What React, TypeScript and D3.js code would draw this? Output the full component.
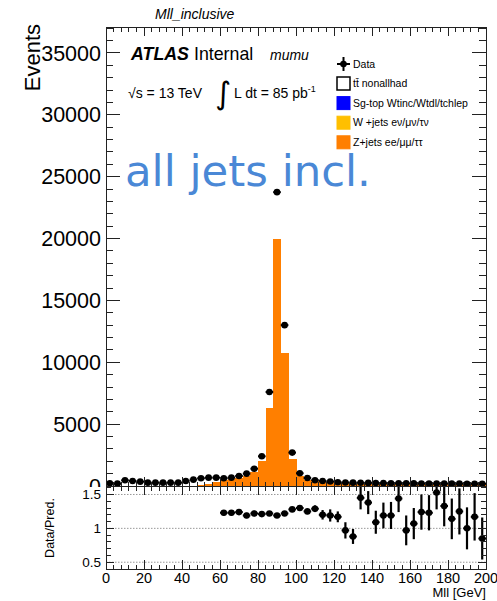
import React from 'react'
import * as d3 from 'd3'

// bin centres (GeV), 4 GeV wide bins from 0 to 200
const massBins = [2, 6, 10, 14, 18, 22, 26, 30, 34, 38, 42, 46, 50, 54, 58, 62, 66, 70, 74, 78, 82, 86, 90, 94, 98,
  102, 106, 110, 114, 118, 122, 126, 130, 134, 138, 142, 146, 150, 154, 158, 162, 166, 170, 174, 178, 182, 186, 190, 194, 198]
const dataEvents = [215, 190, 460, 405, 350, 270, 270, 270, 270, 270, 405, 515, 625, 675, 675, 625, 675, 810, 1000, 1400,
  2400, 7600, 23750, 13000, 2700, 1030, 650, 470, 400, 360, 300, 280, 270, 260, 250, 240, 230, 225, 220, 215,
  210, 205, 200, 200, 195, 190, 190, 185, 185, 180]
const zjetsEvents = [0, 0, 0, 0, 0, 0, 0, 0, 0, 0, 0, 0, 100, 200, 320, 510, 550, 655, 840, 1150,
  2050, 6300, 20000, 10750, 2200, 790, 520, 365, 335, 300, 255, 290, 305, 180, 180, 220, 195, 190, 150, 220,
  195, 165, 162, 130, 147, 167, 152, 185, 158, 212]

const ratioBins = [62, 66, 70, 74, 78, 82, 86, 90, 94, 98, 102, 106, 110, 114, 118, 122, 126, 130, 134, 138, 142,
  146, 150, 154, 158, 162, 166, 170, 174, 178, 182, 186, 190, 194, 198]
const ratioValues = [1.23, 1.23, 1.24, 1.19, 1.22, 1.21, 1.22, 1.19, 1.22, 1.28, 1.3, 1.25, 1.29, 1.2, 1.19, 1.17,
  0.97, 0.88, 1.45, 1.38, 1.09, 1.19, 1.19, 1.44, 0.97, 1.07, 1.24, 1.23, 1.53, 1.33, 1.14, 1.25, 1.0, 1.17, 0.85]
const ratioErrors = [0.04, 0.04, 0.04, 0.04, 0.04, 0.03, 0.02, 0.01, 0.02, 0.03, 0.04, 0.04, 0.05, 0.07, 0.09, 0.08,
  0.12, 0.11, 0.17, 0.17, 0.17, 0.19, 0.2, 0.2, 0.22, 0.23, 0.26, 0.26, 0.25, 0.3, 0.3, 0.34, 0.31, 0.35, 0.31]

const legendLabels = ['tt\u0304 nonallhad', 'Sg-top Wtinc/Wtdl/tchlep', 'W +jets e\u03bd/\u03bc\u03bd/\u03c4\u03bd', 'Z+jets ee/\u03bc\u03bc/\u03c4\u03c4']
const legendColors = ['#ffffff', '#0000ff', '#ffbf00', '#ff7f00']

const xTickLabels = [0, 20, 40, 60, 80, 100, 120, 140, 160, 180, 200]
const yTickLabels = [0, 5000, 10000, 15000, 20000, 25000, 30000, 35000]
const ratioTickLabels = [0.5, 1, 1.5]

const W = 497
const H = 601
const left = 106
const right = 486
const top = 27
const mainBottom = 486
const ratioBottom = 569
const font = 'Liberation Sans, Arial, Helvetica, sans-serif'
const narrow = 'Liberation Sans Narrow, Arial Narrow, Liberation Sans, sans-serif'
const ink = '#222'

export default function App() {
  const x = d3.scaleLinear().domain([0, 200]).range([left, right])
  const y = d3.scaleLinear().domain([0, 37100]).range([mainBottom, top])
  const yr = d3.scaleLinear().domain([0.4, 1.625]).range([ratioBottom, mainBottom])

  const xMinor = d3.range(0, 201, 4)
  const yMinor = d3.range(0, 37001, 1000)
  const rMinor = d3.range(0.5, 1.61, 0.1)

  return (
    <svg width={W} height={H} style={{ position: 'absolute', left: 0, top: 0 }} fontFamily={font}>
      <rect width={W} height={H} fill="#fff" />

      {/* stacked MC: Z+jets */}
      <g shapeRendering="crispEdges">
        {massBins.map((c, i) => zjetsEvents[i] > 0 && (
          <rect key={c} x={x(c - 2)} width={x(c + 2) - x(c - 2) + 0.5} y={y(zjetsEvents[i])}
            height={y(0) - y(zjetsEvents[i])} fill="#ff7f00" />
        ))}
      </g>

      {/* data */}
      <g>
        {massBins.map((c, i) => {
          const v = dataEvents[i]
          const e = Math.sqrt(v)
          return (
            <g key={c}>
              <line x1={x(c)} x2={x(c)} y1={y(v - e)} y2={y(v + e)} stroke="#000" strokeWidth={2} />
              <line x1={x(c - 2)} x2={x(c + 2)} y1={y(v)} y2={y(v)} stroke="#000" strokeWidth={2} />
              <circle cx={x(c)} cy={y(v)} r={3.3} fill="#000" />
            </g>
          )
        })}
      </g>

      {/* main frame and ticks */}
      <g stroke={ink} strokeWidth={1} shapeRendering="crispEdges">
        <rect x={left} y={top} width={right - left} height={mainBottom - top} fill="none" />
        {xMinor.map(t => {
          const len = t % 20 === 0 ? 9 : 4.5
          return (
            <g key={t}>
              <line x1={x(t)} x2={x(t)} y1={top} y2={top + len} />
              <line x1={x(t)} x2={x(t)} y1={mainBottom} y2={mainBottom - len} />
            </g>
          )
        })}
        {yMinor.map(t => {
          const len = t % 5000 === 0 ? 14 : 7
          return (
            <g key={t}>
              <line x1={left} x2={left + len} y1={y(t)} y2={y(t)} />
              <line x1={right} x2={right - len} y1={y(t)} y2={y(t)} />
            </g>
          )
        })}
      </g>
      <g fontSize={21.5} textAnchor="end" fill="#000">
        {yTickLabels.map(t => (
          <text key={t} x={101} y={y(t)} dy="0.35em">{t}</text>
        ))}
      </g>
      <text transform="translate(40,24) rotate(-90)" textAnchor="end" fontSize={22}>Events</text>
      <text x={155} y={19} fontSize={14} fontStyle="italic">Mll_inclusive</text>

      {/* ATLAS labels */}
      <text x={131} y={60} fontSize={17.8}>
        <tspan fontWeight="bold" fontStyle="italic">ATLAS</tspan>
        <tspan dx={5}>Internal</tspan>
      </text>
      <text x={270} y={60} fontSize={14} fontStyle="italic">mumu</text>
      <text x={128} y={98} fontSize={14}>{'\u221as = 13 TeV'}</text>
      <text x={215} y={104} fontSize={31} fontFamily="DejaVu Sans, sans-serif">{'\u222b'}</text>
      <text x={234} y={98} fontSize={14}>
        L dt = 85 pb<tspan dy={-6} fontSize={9}>-1</tspan>
      </text>

      {/* legend */}
      <g fontSize={10.5} fontFamily={narrow}>
        <line x1={337} x2={350} y1={64} y2={64} stroke="#000" strokeWidth={2} />
        <line x1={343.5} x2={343.5} y1={57} y2={71} stroke="#000" strokeWidth={2} />
        <circle cx={343.5} cy={64} r={3.3} fill="#000" />
        <text x={353} y={64} dy="0.35em">Data</text>
        {legendLabels.map((lab, i) => {
          const yy = 77 + i * 19.6
          return (
            <g key={lab}>
              <rect x={337} y={yy} width={13} height={13} fill={legendColors[i]}
                stroke={i === 0 ? '#000' : legendColors[i]} strokeWidth={i === 0 ? 1.5 : 1} />
              <text x={353} y={yy + 6.5} dy="0.35em">{lab}</text>
            </g>
          )
        })}
      </g>

      <text x={125} y={186} fontSize={43.4} fill="#4a88d6" fontFamily="DejaVu Sans, sans-serif">all jets incl.</text>

      {/* ratio pad */}
      <rect x={0} y={mainBottom + 1} width={W} height={H - mainBottom - 1} fill="#fff" />
      <g stroke="#999" strokeWidth={1} strokeDasharray="1.5,1.5">
        {ratioTickLabels.map(t => (
          <line key={t} x1={left} x2={right} y1={yr(t)} y2={yr(t)} />
        ))}
      </g>
      <g>
        {ratioBins.map((c, i) => {
          const v = ratioValues[i]
          const e = ratioErrors[i]
          return (
            <g key={c}>
              <line x1={x(c)} x2={x(c)} y1={Math.min(yr(v - e), ratioBottom)} y2={Math.max(yr(v + e), mainBottom)}
                stroke="#000" strokeWidth={2.2} />
              <line x1={x(c - 2)} x2={x(c + 2)} y1={yr(v)} y2={yr(v)} stroke="#000" strokeWidth={2} />
              <circle cx={x(c)} cy={yr(v)} r={3.3} fill="#000" />
            </g>
          )
        })}
      </g>
      <g stroke={ink} strokeWidth={1} shapeRendering="crispEdges">
        <rect x={left} y={mainBottom} width={right - left} height={ratioBottom - mainBottom} fill="none" />
        {xMinor.map(t => {
          const len = t % 20 === 0 ? 9 : 4.5
          return (
            <g key={t}>
              <line x1={x(t)} x2={x(t)} y1={ratioBottom} y2={ratioBottom - len} />
              <line x1={x(t)} x2={x(t)} y1={mainBottom} y2={mainBottom + len} />
            </g>
          )
        })}
        {rMinor.map(t => {
          const len = Math.abs(t * 2 - Math.round(t * 2)) < 0.01 ? 8 : 5
          return (
            <g key={t}>
              <line x1={left} x2={left + len} y1={yr(t)} y2={yr(t)} />
              <line x1={right} x2={right - len} y1={yr(t)} y2={yr(t)} />
            </g>
          )
        })}
      </g>
      <g fontSize={13.5} textAnchor="end">
        {ratioTickLabels.map(t => (
          <text key={t} x={101} y={yr(t)} dy="0.35em">{t}</text>
        ))}
      </g>
      <g fontSize={14.5} textAnchor="middle">
        {xTickLabels.map(t => (
          <text key={t} x={x(t)} y={583}>{t}</text>
        ))}
      </g>
      <text x={486} y={597} textAnchor="end" fontSize={13}>Mll [GeV]</text>
      <text transform="translate(54,528) rotate(-90)" textAnchor="middle" fontSize={12.5}>Data/Pred.</text>
    </svg>
  )
}
